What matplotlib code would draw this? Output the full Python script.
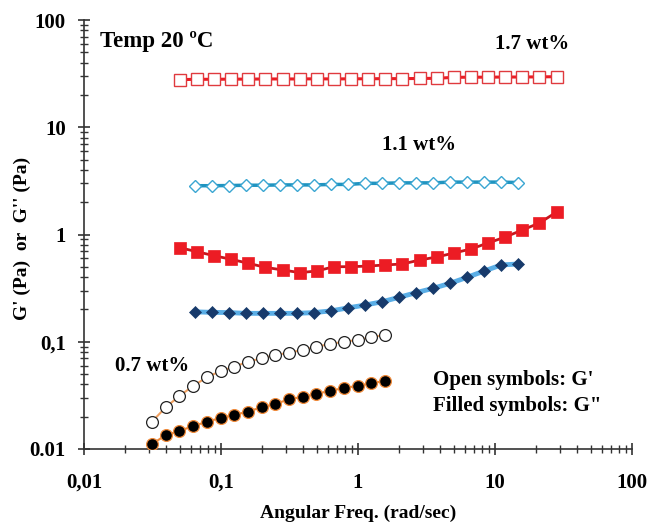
import numpy as np
import matplotlib
matplotlib.use('Agg')
import matplotlib.pyplot as plt
from matplotlib.ticker import FixedLocator, FixedFormatter, LogLocator, NullFormatter

plt.rcParams['font.family'] = ['Liberation Serif', 'DejaVu Serif']
plt.rcParams['font.weight'] = 'bold'

# 1.7 wt% (8 points per decade)
freq_17 = [0.050, 0.067, 0.089, 0.119, 0.158, 0.211, 0.282, 0.376, 0.501, 0.668, 0.891, 1.19,
           1.58, 2.11, 2.82, 3.76, 5.01, 6.68, 8.91, 11.9, 15.8, 21.1, 28.2]
g1_17 = [27.8, 28.0, 28.0, 28.1, 28.1, 28.2, 28.2, 28.2, 28.3, 28.2, 28.3, 28.3,
         28.4, 28.4, 28.5, 28.6, 29.2, 29.3, 29.3, 29.4, 29.4, 29.5, 29.6]
g2_17 = [0.753, 0.691, 0.634, 0.587, 0.539, 0.494, 0.467, 0.441, 0.457, 0.501, 0.501, 0.508,
         0.520, 0.531, 0.578, 0.617, 0.672, 0.733, 0.834, 0.948, 1.10, 1.28, 1.62]

# 1.1 wt%
freq_11 = [0.0646, 0.0859, 0.114, 0.152, 0.203, 0.270, 0.359, 0.478, 0.636, 0.847,
           1.13, 1.50, 2.00, 2.66, 3.54, 4.71, 6.27, 8.35, 11.1, 14.8]
g1_11 = [2.85, 2.85, 2.86, 2.88, 2.88, 2.90, 2.90, 2.90, 2.93, 2.93,
         3.00, 3.00, 3.03, 3.03, 3.03, 3.08, 3.08, 3.08, 3.08, 3.05]
g2_11 = [0.190, 0.188, 0.187, 0.184, 0.184, 0.184, 0.184, 0.187, 0.194, 0.207,
         0.220, 0.236, 0.260, 0.287, 0.315, 0.351, 0.399, 0.457, 0.520, 0.531]

# 0.7 wt% (10 points per decade)
freq_07 = [0.0314, 0.0395, 0.0497, 0.0626, 0.0788, 0.0992, 0.125, 0.157, 0.198,
           0.249, 0.314, 0.395, 0.497, 0.626, 0.788, 0.992, 1.25, 1.57]
g1_07 = [0.0180, 0.0245, 0.0312, 0.0387, 0.0466, 0.0533, 0.0585, 0.0651, 0.0701,
         0.0752, 0.0791, 0.0838, 0.0899, 0.0953, 0.100, 0.104, 0.110, 0.116]
g2_07 = [0.0111, 0.0135, 0.0147, 0.0164, 0.0179, 0.0195, 0.0208, 0.0223, 0.0245,
         0.0263, 0.0291, 0.0307, 0.0326, 0.0350, 0.0369, 0.0389, 0.0410, 0.0431]

x_ticks = [0.01, 0.1, 1, 10, 100]
x_labels = ['0,01', '0,1', '1', '10', '100']
y_ticks = [0.01, 0.1, 1, 10, 100]
y_labels = ['0.01', '0,1', '1', '10', '100']

fig = plt.figure(figsize=(6.47, 5.25), dpi=100)
ax = fig.add_axes([84 / 647, 1 - 449 / 525, 548 / 647, 429 / 525])

red = '#ec1c24'
# 1.7 wt%
ax.plot(freq_17, g1_17, '-', color=red, lw=2.2, marker='s', ms=9,
        mfc='white', mec='#e03a3e', mew=1.0, zorder=3)
ax.plot(freq_17, g2_17, '-', color='#c8161d', lw=2.0, marker='s', ms=9,
        mfc=red, mec=red, mew=0.5, zorder=3)
# 1.1 wt%
ax.plot(freq_11, g1_11, '-', color='#2094c0', lw=2.5, marker='D', ms=6.4,
        mfc='white', mec='#3aa6d2', mew=1.0, zorder=3)
ax.plot(freq_11, g2_11, '-', color='#5aaee6', lw=3.5, marker='D', ms=6.4,
        mfc='#173a6b', mec='#173a6b', mew=0.5, zorder=3)
# 0.7 wt%
ax.plot(freq_07, g1_07, '-', color='#f0a060', lw=1.5, marker='o', ms=8.5,
        mfc='white', mec='#222222', mew=0.9, zorder=3)
ax.plot(freq_07, g2_07, '-', color='#f08a3a', lw=1.5, marker='o', ms=8.5,
        mfc='black', mec='#f08a3a', mew=0.9, zorder=3)

ax.set_xscale('log')
ax.set_yscale('log')
ax.set_xlim(0.01, 100)
ax.set_ylim(0.01, 100)

ax.xaxis.set_major_locator(FixedLocator(x_ticks))
ax.xaxis.set_major_formatter(FixedFormatter(x_labels))
ax.yaxis.set_major_locator(FixedLocator(y_ticks))
ax.yaxis.set_major_formatter(FixedFormatter(y_labels))
ax.xaxis.set_minor_locator(LogLocator(base=10, subs=np.arange(2, 10), numticks=20))
ax.yaxis.set_minor_locator(LogLocator(base=10, subs=np.arange(2, 10), numticks=20))
ax.xaxis.set_minor_formatter(NullFormatter())
ax.yaxis.set_minor_formatter(NullFormatter())

for s in ['top', 'right']:
    ax.spines[s].set_visible(False)
for s in ['left', 'bottom']:
    ax.spines[s].set_color('#333333')
    ax.spines[s].set_linewidth(1.2)

ax.tick_params(axis='both', which='major', direction='inout', length=8, width=1.2,
               color='#333333', labelsize=15)
ax.tick_params(axis='both', which='minor', direction='inout', length=6, width=1.0,
               color='#333333')
ax.tick_params(axis='x', which='major', pad=13)
ax.tick_params(axis='y', which='major', pad=9)
for lab in ax.get_xticklabels() + ax.get_yticklabels():
    lab.set_fontweight('bold')

ax.set_xlabel('Angular Freq. (rad/sec)', fontsize=14, fontweight='bold', va='center')
ax.set_ylabel("G' (Pa)  or  G'' (Pa)", fontsize=14, fontweight='bold', va='center')
ax.xaxis.set_label_coords(0.5, -0.149)
ax.yaxis.set_label_coords(-0.113, 0.49)

txt = dict(transform=ax.transAxes, fontsize=15, fontweight='bold', va='center', ha='left')
ax.text(0.029, 0.949, 'Temp 20 ºC', fontsize=16.5, transform=ax.transAxes,
        fontweight='bold', va='center', ha='left')
ax.text(0.750, 0.944, '1.7 wt%', **txt)
ax.text(0.544, 0.709, '1.1 wt%', **txt)
ax.text(0.057, 0.193, '0.7 wt%', **txt)
ax.text(0.637, 0.161, "Open symbols: G'", **txt)
ax.text(0.637, 0.100, 'Filled symbols: G"', **txt)

fig.savefig('out.png', dpi=100)
